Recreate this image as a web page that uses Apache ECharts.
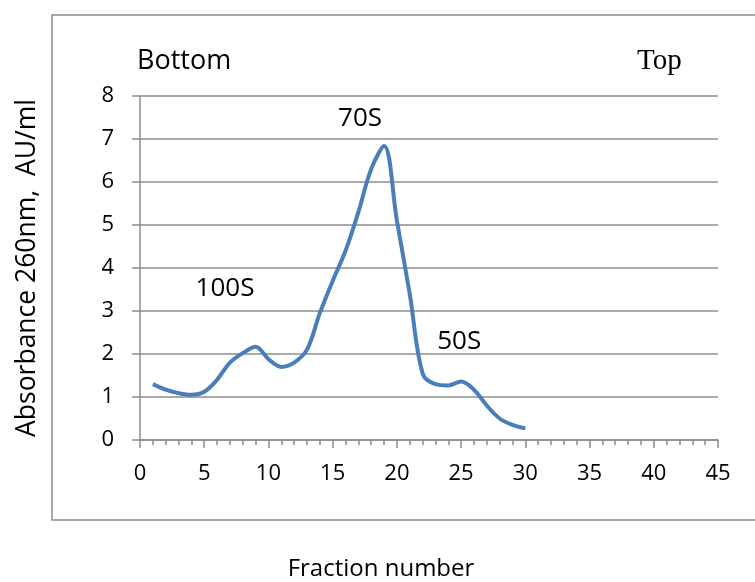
<!DOCTYPE html>
<html>
<head>
<meta charset="utf-8">
<script src="https://cdn.jsdelivr.net/npm/echarts@6/dist/echarts.min.js"></script>
<style>
html,body{margin:0;padding:0;background:#fff;}
#c{width:755px;height:582px;}
</style>
</head>
<body>
<div id="c"></div>
<script>
const fractions = [1,2,3,4,5,6,7,8,9,10,11,12,13,14,15,16,17,18,19,20,21,22,23,24,25,26,27,28,29,30];
const absorbance = [1.30,1.17,1.09,1.05,1.12,1.40,1.80,2.02,2.17,1.88,1.70,1.80,2.10,2.95,3.70,4.40,5.30,6.30,6.84,5.10,3.40,1.55,1.30,1.27,1.36,1.17,0.80,0.50,0.35,0.27];
const peakLabels = [
  {text:'100S', x:6.62, y:3.53},
  {text:'70S', x:17.13, y:7.48},
  {text:'50S', x:24.85, y:2.28}
];

const chart = echarts.init(document.getElementById('c'));
const font = '"Open Sans", sans-serif';
const gray = '#8c8c8c';

chart.setOption({
  animation:false,
  graphic:[
    {type:'rect', shape:{x:52, y:15, width:720, height:505}, style:{fill:'none', stroke:gray, lineWidth:1.5}, z:-1},
    {type:'text', x:137, y:61, style:{text:'Bottom', font:'27px '+font, fill:'#000', verticalAlign:'middle'}},
    {type:'text', x:637, y:61, style:{text:'Top', font:'29px "Liberation Serif", "DejaVu Serif", serif', fill:'#000', verticalAlign:'middle'}},
    {type:'text', x:381, y:569, style:{text:'Fraction number', font:'24px '+font, fill:'#000', align:'center', verticalAlign:'middle'}},
    {type:'text', x:27, y:268, rotation:Math.PI/2, style:{text:'Absorbance 260nm,  AU/ml', font:'26.5px '+font, fill:'#000', align:'center', verticalAlign:'middle'}}
  ],
  grid:{left:140, right:37, top:96, bottom:142},
  xAxis:{
    type:'value', min:0, max:45, interval:5,
    axisLine:{lineStyle:{color:gray, width:1.5}},
    axisTick:{show:true, inside:false, length:8, lineStyle:{color:gray, width:1.5}},
    minorTick:{show:true, splitNumber:5, length:5, lineStyle:{color:gray, width:1.5}},
    splitLine:{show:false},
    axisLabel:{fontSize:22, fontFamily:font, color:'#000', margin:23}
  },
  yAxis:{
    type:'value', min:0, max:8, interval:1,
    axisLine:{show:true, lineStyle:{color:gray, width:1.5}},
    axisTick:{show:true, inside:false, length:8, lineStyle:{color:gray, width:1.5}},
    splitLine:{show:true, lineStyle:{color:gray, width:1.5}},
    axisLabel:{fontSize:22, fontFamily:font, color:'#000', margin:26}
  },
  series:[
    {
      type:'line', data:fractions.map((f,i)=>[f, absorbance[i]]),
      smooth:0.35, showSymbol:false,
      lineStyle:{color:'#4a7ebb', width:4},
      markPoint:{
        symbol:'circle', symbolSize:0,
        label:{show:true, color:'#000', fontSize:26, fontFamily:font, formatter:p=>p.name, position:'inside'},
        data:peakLabels.map(p=>({name:p.text, coord:[p.x, p.y]}))
      }
    }
  ]
});
</script>
</body>
</html>
